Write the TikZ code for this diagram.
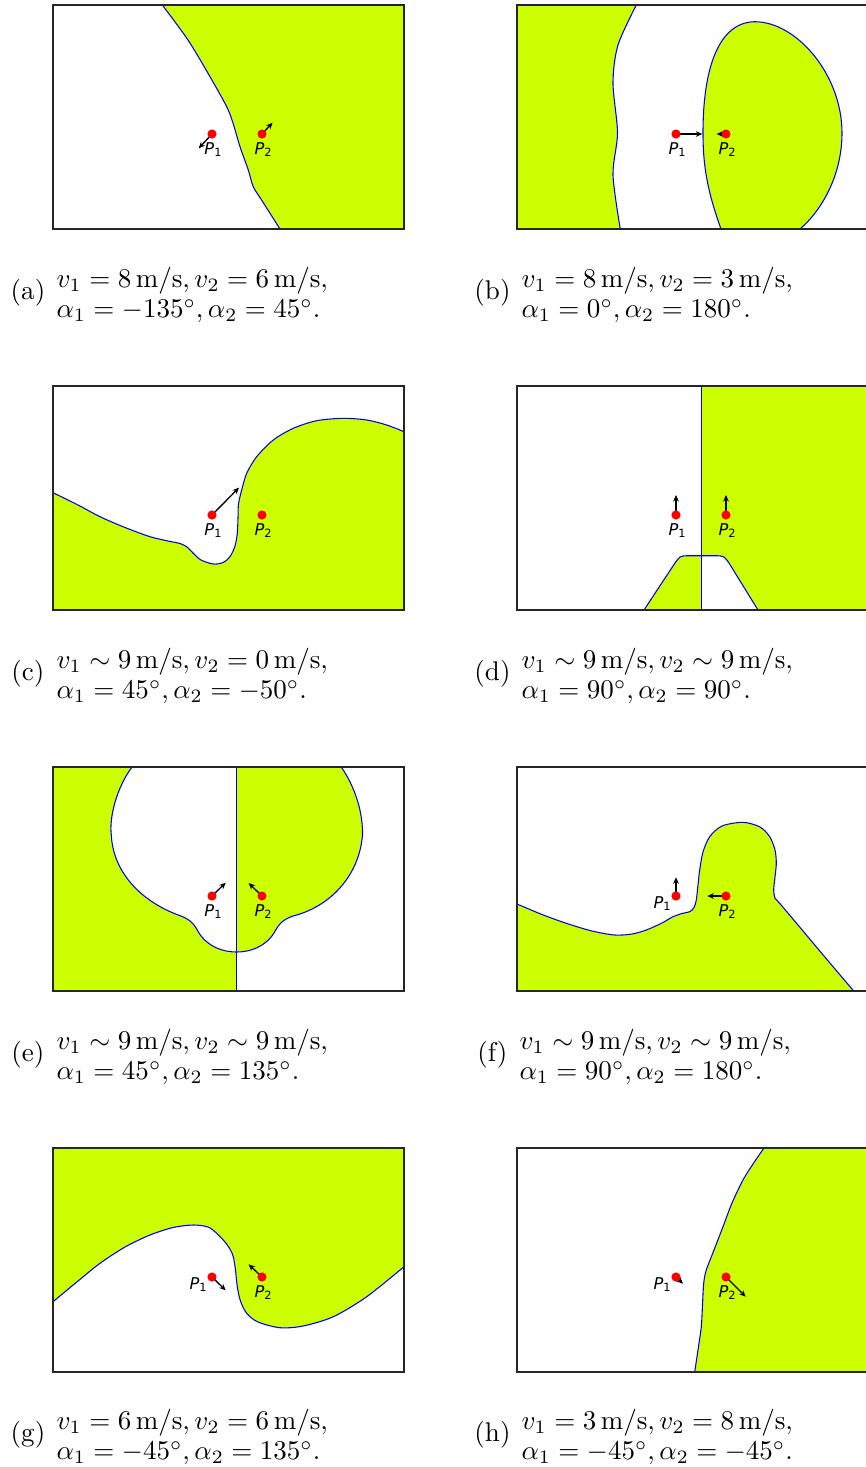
\documentclass[tikz,border=0pt]{standalone}
\usepackage{fontspec}
\newfontfamily\mpl{DejaVu Sans}
\usetikzlibrary{arrows.meta}
\definecolor{lime}{RGB}{204,255,0}
\tikzset{
  frame/.style={draw=black!85, line width=0.45pt},
  iface/.style={draw=blue, line width=0.4pt},
  region/.style={fill=lime},
  pt/.style={circle, fill=red, inner sep=0pt, minimum size=3.4pt},
  vel/.style={-{Stealth[length=2.4pt,width=2.1pt]}, line width=0.5pt, black},
  plabel/.style={inner sep=0pt, font=\mpl\fontsize{6}{7}\selectfont},
  sublab/.style={inner sep=0pt, font=\fontsize{10}{12}\selectfont},
  captext/.style={inner sep=0pt, anchor=west, align=left, font=\fontsize{10}{11.4}\selectfont},
}
\newcommand{\Plab}[1]{\textit{P}\raisebox{-0.9pt}{\fontsize{4.2}{5}\selectfont #1}}
\begin{document}
\begin{tikzpicture}[x=0.37pt,y=-0.37pt]
\path[clip] (0,0) rectangle (866,1467);
\fill[white] (0,0) rectangle (866,1467);

%================ (a)
\begin{scope}[shift={(53,5)}]
\fill[region] plot[smooth] coordinates {(109.3,0) (135,35) (157,71.7) (173.7,101.7) (180,118) (187,141.7) (195.3,165) (200.3,181.7) (208.6,195) (227,224)} -- (351,224) -- (351,0) -- cycle;
\draw[iface] plot[smooth] coordinates {(109.3,0) (135,35) (157,71.7) (173.7,101.7) (180,118) (187,141.7) (195.3,165) (200.3,181.7) (208.6,195) (227,224)};
\draw[frame] (0,0) rectangle (351,224);
\coordinate (a1c) at (159,129); \coordinate (a2c) at (209,129);
\coordinate (a1v) at (145.7,143.3); \coordinate (a2v) at (219.6,117.7);
\draw[vel] (a1c) -- (a1v);
\draw[vel] (a2c) -- (a2v);
\node[pt] (a1) at (a1c) {};
\node[pt] (a2) at (a2c) {};
\node[plabel] (a1l) at (160,144.5) {\Plab{1}};
\node[plabel] (a2l) at (210,144.5) {\Plab{2}};
\end{scope}
\node[sublab] (a-lab) at (28,293) {(a)};
\node[captext] (a-cap) at (56,295) {$v_1 = 8\,\mathrm{m}/\mathrm{s}, v_2 = 6\,\mathrm{m}/\mathrm{s},$\\$\alpha_1 = -135^\circ, \alpha_2 = 45^\circ.$};

%================ (b)
\begin{scope}[shift={(517,5)}]
\fill[region] plot[smooth] coordinates {(119.3,0) (101,40) (96,78) (100.5,128) (96,170) (103.3,224)} -- (0,224) -- (0,0) -- cycle;
\draw[iface] plot[smooth] coordinates {(119.3,0) (101,40) (96,78) (100.5,128) (96,170) (103.3,224)};
\fill[region] (204,224) .. controls (190,185) and (186,160) .. (186,128) .. controls (186,60) and (203,17) .. (238,16.7) .. controls (280,17) and (325,70) .. (325,128) .. controls (325,170) and (305,205) .. (283,224) -- cycle;
\draw[iface] (204,224) .. controls (190,185) and (186,160) .. (186,128) .. controls (186,60) and (203,17) .. (238,16.7) .. controls (280,17) and (325,70) .. (325,128) .. controls (325,170) and (305,205) .. (283,224);
\draw[frame] (0,0) rectangle (351,224);
\coordinate (b1c) at (159,129); \coordinate (b2c) at (209,129);
\coordinate (b1v) at (185.3,129); \coordinate (b2v) at (199.6,129);
\draw[vel] (b1c) -- (b1v);
\draw[vel] (b2c) -- (b2v);
\node[pt] (b1) at (b1c) {};
\node[pt] (b2) at (b2c) {};
\node[plabel] (b1l) at (160,144.5) {\Plab{1}};
\node[plabel] (b2l) at (210,144.5) {\Plab{2}};
\end{scope}
\node[sublab] (b-lab) at (492.5,293) {(b)};
\node[captext] (b-cap) at (521,295) {$v_1 = 8\,\mathrm{m}/\mathrm{s}, v_2 = 3\,\mathrm{m}/\mathrm{s},$\\$\alpha_1 = 0^\circ, \alpha_2 = 180^\circ.$};

%================ (c)
\begin{scope}[shift={(53,386)}]
\fill[region] plot[smooth] coordinates {(0,106.7) (25,119) (47,130.7) (72,141.5) (97,150.7) (115,155) (127,157.5) (134,161) (140.3,167.3) (148,174) (160.3,178) (170,176.5) (177,170.7) (182,160) (184.3,147.3) (185,132) (185.5,118) (188.7,104) (193.7,87.3) (203.7,70.7) (220.3,54) (240.3,42.3) (263.7,34.7) (290.3,32.3) (313.7,34) (333.7,39) (351,45.7)} -- (351,224) -- (0,224) -- cycle;
\draw[iface] plot[smooth] coordinates {(0,106.7) (25,119) (47,130.7) (72,141.5) (97,150.7) (115,155) (127,157.5) (134,161) (140.3,167.3) (148,174) (160.3,178) (170,176.5) (177,170.7) (182,160) (184.3,147.3) (185,132) (185.5,118) (188.7,104) (193.7,87.3) (203.7,70.7) (220.3,54) (240.3,42.3) (263.7,34.7) (290.3,32.3) (313.7,34) (333.7,39) (351,45.7)};
\draw[frame] (0,0) rectangle (351,224);
\coordinate (c1c) at (159,129); \coordinate (c2c) at (209,129);
\coordinate (c1v) at (186,101.6);
\draw[vel] (c1c) -- (c1v);
\node[pt] (c1) at (c1c) {};
\node[pt] (c2) at (c2c) {};
\node[plabel] (c1l) at (160,144.5) {\Plab{1}};
\node[plabel] (c2l) at (210,144.5) {\Plab{2}};
\end{scope}
\node[sublab] (c-lab) at (28,674) {(c)};
\node[captext] (c-cap) at (56,676) {$v_1 \sim 9\,\mathrm{m}/\mathrm{s}, v_2 = 0\,\mathrm{m}/\mathrm{s},$\\$\alpha_1 = 45^\circ, \alpha_2 = -50^\circ.$};

%================ (d)
\begin{scope}[shift={(517,386)}]
\fill[region, even odd rule] (184.3,0) rectangle (351,224)
  (127,224) -- (158,177) .. controls (163,170) .. (171,169.7) -- (199,169.7) .. controls (207,170) .. (212,177) -- (241,224) -- cycle;
\draw[iface] (127,224) -- (158,177) .. controls (163,170) .. (171,169.7) -- (199,169.7) .. controls (207,170) .. (212,177) -- (241,224);
\draw[iface] (184.3,0) -- (184.3,224);
\draw[frame] (0,0) rectangle (351,224);
\coordinate (d1c) at (159,129); \coordinate (d2c) at (209,129);
\coordinate (d1v) at (159,109); \coordinate (d2v) at (209,109);
\draw[vel] (d1c) -- (d1v);
\draw[vel] (d2c) -- (d2v);
\node[pt] (d1) at (d1c) {};
\node[pt] (d2) at (d2c) {};
\node[plabel] (d1l) at (160,144.5) {\Plab{1}};
\node[plabel] (d2l) at (210,144.5) {\Plab{2}};
\end{scope}
\node[sublab] (d-lab) at (492.5,674) {(d)};
\node[captext] (d-cap) at (521,676) {$v_1 \sim 9\,\mathrm{m}/\mathrm{s}, v_2 \sim 9\,\mathrm{m}/\mathrm{s},$\\$\alpha_1 = 90^\circ, \alpha_2 = 90^\circ.$};

%================ (e)
\begin{scope}[shift={(53,767)}]
\fill[region, even odd rule] (0,0) rectangle (183.7,224)
  (79,0) .. controls (64,20) and (56,50) .. (58.3,68) .. controls (60,105) and (88,135) .. (128,149) .. controls (138,153) and (141,157) .. (146,166) .. controls (155,180) and (170,185) .. (183.7,185) .. controls (197,185) and (212,180) .. (221,166) .. controls (226,157) and (229,153) .. (240,149) .. controls (276,140) and (306,110) .. (309.5,68) .. controls (310,45) and (302,20) .. (288.3,0) -- cycle;
\draw[iface] (79,0) .. controls (64,20) and (56,50) .. (58.3,68) .. controls (60,105) and (88,135) .. (128,149) .. controls (138,153) and (141,157) .. (146,166) .. controls (155,180) and (170,185) .. (183.7,185) .. controls (197,185) and (212,180) .. (221,166) .. controls (226,157) and (229,153) .. (240,149) .. controls (276,140) and (306,110) .. (309.5,68) .. controls (310,45) and (302,20) .. (288.3,0);
\draw[iface] (183.7,0) -- (183.7,224);
\draw[frame] (0,0) rectangle (351,224);
\coordinate (e1c) at (159,129); \coordinate (e2c) at (209,129);
\coordinate (e1v) at (172.7,115.7); \coordinate (e2v) at (195.6,116);
\draw[vel] (e1c) -- (e1v);
\draw[vel] (e2c) -- (e2v);
\node[pt] (e1) at (e1c) {};
\node[pt] (e2) at (e2c) {};
\node[plabel] (e1l) at (160,144.5) {\Plab{1}};
\node[plabel] (e2l) at (210,144.5) {\Plab{2}};
\end{scope}
\node[sublab] (e-lab) at (28,1055) {(e)};
\node[captext] (e-cap) at (56,1057) {$v_1 \sim 9\,\mathrm{m}/\mathrm{s}, v_2 \sim 9\,\mathrm{m}/\mathrm{s},$\\$\alpha_1 = 45^\circ, \alpha_2 = 135^\circ.$};

%================ (f)
\begin{scope}[shift={(517,767)}]
\fill[region] plot[smooth] coordinates {(0,137) (25,147.5) (49.3,156.3) (75,164) (97.7,168) (115,167) (129.3,163) (145,156) (156,149.7) (165,146.5) (172.7,144.7) (177,140.5) (179.3,133) (181,118) (182.7,103) (186,85) (192.7,69.7) (205,59) (226,55.3) (243,60) (252.7,69.7) (258,83) (259.3,96.3) (258,110) (256.7,123) (258,131) (262.7,136.3) (281,158) (299,179.5) (318,202) (336.7,224)} -- (0,224) -- cycle;
\draw[iface] plot[smooth] coordinates {(0,137) (25,147.5) (49.3,156.3) (75,164) (97.7,168) (115,167) (129.3,163) (145,156) (156,149.7) (165,146.5) (172.7,144.7) (177,140.5) (179.3,133) (181,118) (182.7,103) (186,85) (192.7,69.7) (205,59) (226,55.3) (243,60) (252.7,69.7) (258,83) (259.3,96.3) (258,110) (256.7,123) (258,131) (262.7,136.3) (281,158) (299,179.5) (318,202) (336.7,224)};
\draw[frame] (0,0) rectangle (351,224);
\coordinate (f1c) at (159,129); \coordinate (f2c) at (209,129);
\coordinate (f1v) at (159,110.3); \coordinate (f2v) at (190.3,129);
\draw[vel] (f1c) -- (f1v);
\draw[vel] (f2c) -- (f2v);
\node[pt] (f1) at (f1c) {};
\node[pt] (f2) at (f2c) {};
\node[plabel] (f1l) at (145,136.3) {\Plab{1}};
\node[plabel] (f2l) at (210,144.5) {\Plab{2}};
\end{scope}
\node[sublab] (f-lab) at (492.5,1055) {(f)};
\node[captext] (f-cap) at (519,1057) {$v_1 \sim 9\,\mathrm{m}/\mathrm{s}, v_2 \sim 9\,\mathrm{m}/\mathrm{s},$\\$\alpha_1 = 90^\circ, \alpha_2 = 180^\circ.$};

%================ (g)
\begin{scope}[shift={(53,1148)}]
\fill[region] plot[smooth] coordinates {(0,153.7) (25,133) (47,115.3) (72,99) (97,87) (120,79.5) (140.3,77) (155,79) (163.7,85.3) (172,94) (177.5,102) (180.3,108.7) (182.5,122) (184.3,138.7) (187.5,153) (193.7,165.3) (205,174) (227,179.7) (250,178) (280.3,168.7) (313.7,148.7) (351,118.7)} -- (351,0) -- (0,0) -- cycle;
\draw[iface] plot[smooth] coordinates {(0,153.7) (25,133) (47,115.3) (72,99) (97,87) (120,79.5) (140.3,77) (155,79) (163.7,85.3) (172,94) (177.5,102) (180.3,108.7) (182.5,122) (184.3,138.7) (187.5,153) (193.7,165.3) (205,174) (227,179.7) (250,178) (280.3,168.7) (313.7,148.7) (351,118.7)};
\draw[frame] (0,0) rectangle (351,224);
\coordinate (g1c) at (159,129); \coordinate (g2c) at (209,129);
\coordinate (g1v) at (172.7,142.3); \coordinate (g2v) at (195.6,116.3);
\draw[vel] (g1c) -- (g1v);
\draw[vel] (g2c) -- (g2v);
\node[pt] (g1) at (g1c) {};
\node[pt] (g2) at (g2c) {};
\node[plabel] (g1l) at (145,136.3) {\Plab{1}};
\node[plabel] (g2l) at (210,144.5) {\Plab{2}};
\end{scope}
\node[sublab] (g-lab) at (28,1435) {(g)};
\node[captext] (g-cap) at (56,1437) {$v_1 = 6\,\mathrm{m}/\mathrm{s}, v_2 = 6\,\mathrm{m}/\mathrm{s},$\\$\alpha_1 = -45^\circ, \alpha_2 = 135^\circ.$};

%================ (h)
\begin{scope}[shift={(517,1148)}]
\fill[region] plot[smooth, tension=0.5] coordinates {(247,0) (236,16) (226,32) (215,55) (206,78.7) (197,102) (189.3,122) (186.7,135.3) (185.5,157) (184.3,178.7) (181,202) (177.7,224)} -- (351,224) -- (351,0) -- cycle;
\draw[iface] plot[smooth, tension=0.5] coordinates {(247,0) (236,16) (226,32) (215,55) (206,78.7) (197,102) (189.3,122) (186.7,135.3) (185.5,157) (184.3,178.7) (181,202) (177.7,224)};
\draw[frame] (0,0) rectangle (351,224);
\coordinate (h1c) at (159,129); \coordinate (h2c) at (209,129);
\coordinate (h1v) at (166,135.7); \coordinate (h2v) at (228.7,148.7);
\draw[vel] (h1c) -- (h1v);
\draw[vel] (h2c) -- (h2v);
\node[pt] (h1) at (h1c) {};
\node[pt] (h2) at (h2c) {};
\node[plabel] (h1l) at (145,136.3) {\Plab{1}};
\node[plabel] (h2l) at (210,144.5) {\Plab{2}};
\end{scope}
\node[sublab] (h-lab) at (492.5,1435) {(h)};
\node[captext] (h-cap) at (521,1437) {$v_1 = 3\,\mathrm{m}/\mathrm{s}, v_2 = 8\,\mathrm{m}/\mathrm{s},$\\$\alpha_1 = -45^\circ, \alpha_2 = -45^\circ.$};
\end{tikzpicture}
\end{document}
